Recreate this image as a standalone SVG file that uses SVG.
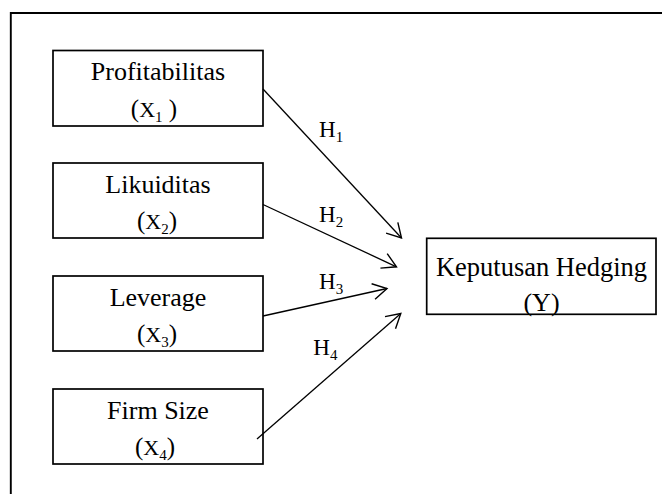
<svg xmlns="http://www.w3.org/2000/svg" width="662" height="494" viewBox="0 0 662 494">
<style>
.box{fill:#fff;stroke:#000;stroke-width:1.7}
.t{font-family:"Liberation Serif","Times New Roman",serif;font-size:26px;fill:#000;text-anchor:middle}
.m{font-family:"Liberation Serif","Times New Roman",serif;font-size:25px;fill:#000}
.x{font-size:22px}
.h{font-family:"Liberation Serif","Times New Roman",serif;font-size:23px;fill:#000}
.s{font-size:15px}
.c{stroke:#000;stroke-width:1.3;fill:none}
</style>
<defs>
<marker id="ah" markerUnits="userSpaceOnUse" markerWidth="20" markerHeight="20" viewBox="-16 -10 18 20" refX="0" refY="0" orient="auto">
<path d="M-14,-8 L0,0 L-14,8" fill="none" stroke="#000" stroke-width="1.4"/>
</marker>
</defs>
<rect width="662" height="494" fill="#fff"/>
<path d="M10.8,494 V13 H662" fill="none" stroke="#000" stroke-width="1.9"/>
<g id="x1">
<rect class="box" x="53" y="50.5" width="210" height="75.5"/>
<text class="t" x="158" y="80">Profitabilitas</text>
<text class="m" x="154" y="116.5" text-anchor="middle">(<tspan class="x">X</tspan><tspan class="s" dy="5">1</tspan><tspan dy="-5"> )</tspan></text>
</g>
<g id="x2">
<rect class="box" x="53" y="163" width="210" height="75"/>
<text class="t" x="158" y="192.5">Likuiditas</text>
<text class="m" x="157" y="229" text-anchor="middle">(<tspan class="x">X</tspan><tspan class="s" dy="5">2</tspan><tspan dy="-5">)</tspan></text>
</g>
<g id="x3">
<rect class="box" x="53" y="276" width="210" height="75"/>
<text class="t" x="158" y="305.5">Leverage</text>
<text class="m" x="157" y="342" text-anchor="middle">(<tspan class="x">X</tspan><tspan class="s" dy="5">3</tspan><tspan dy="-5">)</tspan></text>
</g>
<g id="x4">
<rect class="box" x="53" y="389" width="210" height="75"/>
<text class="t" x="158" y="418.5">Firm Size</text>
<text class="m" x="155" y="455" text-anchor="middle">(<tspan class="x">X</tspan><tspan class="s" dy="5">4</tspan><tspan dy="-5">)</tspan></text>
</g>
<g id="y">
<rect class="box" x="426.7" y="238.3" width="229.3" height="76"/>
<text class="t" x="541.5" y="276" style="font-size:26.5px">Keputusan Hedging</text>
<text class="t" x="541.5" y="310.5">(Y)</text>
</g>
<g id="connectors">
<line class="c" x1="263" y1="89" x2="401.5" y2="238" marker-end="url(#ah)"/>
<line class="c" x1="263" y1="204.5" x2="396.5" y2="266.8" marker-end="url(#ah)"/>
<line class="c" x1="263" y1="316" x2="387" y2="288.5" marker-end="url(#ah)"/>
<line class="c" x1="257" y1="439" x2="400.8" y2="313.5" marker-end="url(#ah)"/>
<text class="h" x="319" y="137.3">H<tspan class="s" dy="5">1</tspan></text>
<text class="h" x="319" y="221.7">H<tspan class="s" dy="5">2</tspan></text>
<text class="h" x="319" y="289">H<tspan class="s" dy="5">3</tspan></text>
<text class="h" x="313.3" y="355">H<tspan class="s" dy="5">4</tspan></text>
</g>
</svg>
